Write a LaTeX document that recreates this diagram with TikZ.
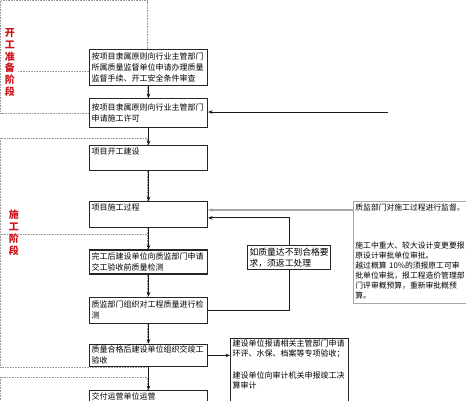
\documentclass[tikz,border=0pt]{standalone}
\usepackage{fontspec}
\usepackage{tikz}
\usetikzlibrary{positioning,arrows.meta}
\newfontfamily\cjk{Noto Sans CJK SC}
\definecolor{stagered}{RGB}{205,20,25}
\tikzset{
  stagebox/.style={draw=black!85,line width=1.1pt,fill=white,inner sep=2pt,
    text width=114pt,align=left,font=\cjk\fontsize{8}{11}\selectfont},
  notebox/.style={draw=black!85,line width=1.1pt,fill=white,inner sep=2pt,
    align=left,anchor=north west,font=\cjk\fontsize{8}{10}\selectfont},
  stagename/.style={text=stagered,inner sep=0pt,align=center,
    font=\cjk\bfseries\fontsize{10}{11.8}\selectfont},
  stageframe/.style={gray!80,densely dotted,line width=0.6pt},
  flow/.style={->,draw=black!90,line width=0.8pt},
  >={Stealth[length=4.5pt,width=3.6pt]}
}

\begin{document}
\begin{tikzpicture}[x=1pt,y=-1pt]
                   \useasboundingbox (0,0) rectangle (466,400);
                   % stage frames
                   \draw[stageframe] (0.5,0.5) rectangle (147,113);
                   \draw[stageframe] (0.5,138) rectangle (147,367);
                   \draw[stageframe] (0.5,377) rectangle (147,430);
                   \draw[stageframe] (18,71) -- (89,71);
                   \draw[stageframe] (0.5,234) -- (147,234);
                   \node[stagename] (s_prep) at (10,62.5) {开\\工\\准\\备\\阶\\段};
                   \node[stagename] (s_build) at (14,232.5) {施\\工\\阶\\段};
                   % main column
                   \node[stagebox,anchor=north west,minimum height=36pt] (b_check) at (89,49)
                        {按项目隶属原则向行业主管部门\\所属质量监督单位申请办理质量\\监督手续、开工安全条件审查};
                   \node[stagebox,minimum height=29pt] (b_permit) [below=12pt of b_check]
                        {按项目隶属原则向行业主管部门\\申请施工许可};
                   \node[stagebox,text height=7pt,text depth=14pt] (b_start) [below=17pt of b_permit] {项目开工建设};
                   \node[stagebox,text height=7pt,text depth=15pt] (b_work) [below=30pt of b_start] {项目施工过程};
                   \node[stagebox,minimum height=24pt] (b_apply) [below=21pt of b_work]
                        {完工后建设单位向质监部门申请\\交工验收前质量检测};
                   \node[stagebox,minimum height=26pt] (b_test) [below=22pt of b_apply]
                        {质监部门组织对工程质量进行检\\测};
                   \node[stagebox,minimum height=22pt] (b_accept) [below=20pt of b_test]
                        {质量合格后建设单位组织交竣工\\验收};
                   \node[stagebox,text height=7pt,text depth=19pt] (b_handover) [below=23pt of b_accept] {交付运营单位运营};
                   % side notes
                   \node[notebox,text width=79pt,minimum height=24pt,font=\cjk\fontsize{8.8}{11}\selectfont] (r_redo) at (247,245)
                        {如质量达不到合格要\\求，须返工处理};
                   \node[notebox,draw=gray!70,line width=0.8pt,inner ysep=3pt,text width=112pt,text depth=89pt,
                         font=\cjk\fontsize{7.8}{10}\selectfont] (r_watch) at (353,201)
                        {质监部门对施工过程进行监督。\\[28pt]施工中重大、较大设计变更要报\\原设计审批单位审批。\\越过概算 10\%的须报原工可审\\批单位审批，报工程造价管理部\\门评审概预算，重新审批概预\\算。};
                   \node[notebox,inner ysep=1pt,text width=114pt,text depth=70pt] (r_audit) at (230,338)
                        {建设单位报请相关主管部门申请\\环评、水保、档案等专项验收；\\[12.5pt]建设单位向审计机关申报竣工决\\算审计};
                   \coordinate (p_feed) at (388,112);
                   \coordinate (r_in) at ([yshift=-9pt]r_watch.north west);
                    \path[flow]
                    (b_check) edge (b_permit)
                    (b_permit) edge (b_start)
                    (b_start) edge (b_work)
                    (b_work) edge (b_apply)
                    (b_apply) edge (b_test)
                    (b_test) edge (b_accept)
                    (b_accept) edge (b_handover);
                    \draw[flow] (p_feed) -- (p_feed -| b_permit.east);
                    \draw[flow,draw=gray!70,line width=1.3pt] (r_in) -- (r_in -| b_work.east);
                    \draw[black!90,line width=1.1pt] (b_test.east) -| (r_redo.south);
                    \draw[flow,line width=1.1pt] (r_redo.north) |- ([yshift=-3pt]b_work.east);
                    \draw[flow] (b_accept.east) -- (b_accept.east -| r_audit.west);
                \end{tikzpicture}
\end{document}
